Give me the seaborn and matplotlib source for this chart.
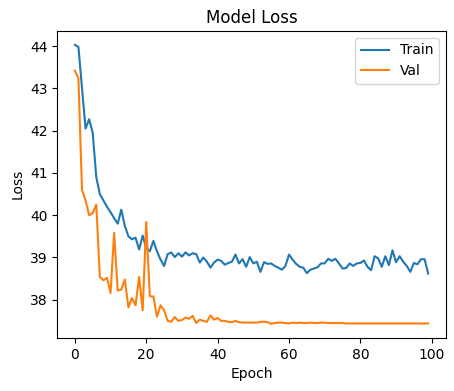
import matplotlib
matplotlib.use('Agg')
import matplotlib.pyplot as plt
import seaborn as sns
import numpy as np

# Loss values
train_loss = [44.03, 43.98, 43.0, 42.05, 42.27, 41.95, 40.9, 40.5, 40.35, 40.2,
              40.07, 39.93, 39.8, 40.13, 39.75, 39.5, 39.43, 39.47, 39.19, 39.52,
              39.22, 39.15, 39.39, 39.15, 38.95, 38.8, 39.08, 39.12, 39.01, 39.1,
              39.02, 39.12, 39.05, 39.1, 39.08, 38.88, 39.0, 38.9, 38.76, 38.88,
              38.95, 38.92, 38.83, 38.87, 38.9, 39.07, 38.86, 38.96, 38.78, 39.01,
              38.86, 38.9, 38.66, 38.89, 38.85, 38.86, 38.8, 38.76, 38.71, 38.8,
              39.07, 38.95, 38.85, 38.78, 38.76, 38.63, 38.71, 38.74, 38.77, 38.86,
              38.86, 38.97, 38.92, 38.97, 38.86, 38.74, 38.75, 38.86, 38.8, 38.86,
              38.87, 38.93, 38.78, 38.7, 39.03, 38.98, 38.78, 39.03, 38.82, 39.17,
              38.89, 39.03, 38.9, 38.8, 38.66, 38.87, 38.84, 38.96, 38.96, 38.62]

val_loss = [43.42, 43.24, 40.6, 40.35, 40.0, 40.05, 40.25, 38.54, 38.46, 38.52,
            38.16, 39.58, 38.22, 38.24, 38.48, 37.82, 38.04, 37.87, 38.54, 37.75,
            39.84, 38.08, 38.08, 37.6, 37.87, 37.75, 37.5, 37.48, 37.59, 37.5,
            37.52, 37.58, 37.55, 37.62, 37.45, 37.53, 37.5, 37.48, 37.63, 37.53,
            37.57, 37.5, 37.5, 37.48, 37.47, 37.5, 37.47, 37.46, 37.46, 37.46,
            37.46, 37.46, 37.48, 37.48, 37.47, 37.43, 37.45, 37.46, 37.46, 37.45,
            37.44, 37.46, 37.45, 37.46, 37.45, 37.45, 37.46, 37.45, 37.45, 37.46,
            37.46, 37.45, 37.45, 37.45, 37.45, 37.45, 37.44, 37.44, 37.44, 37.44,
            37.44, 37.44, 37.44, 37.44, 37.44, 37.44, 37.44, 37.44, 37.44, 37.44,
            37.44, 37.44, 37.44, 37.44, 37.44, 37.44, 37.44, 37.44, 37.44, 37.44]

epochs = np.arange(len(train_loss))

fig = plt.figure(figsize=(4.54, 3.91), dpi=100)
ax = fig.add_subplot(111)
fig.subplots_adjust(left=0.126, right=0.982, top=0.921, bottom=0.136)

sns.lineplot(x=epochs, y=train_loss, label='Train', color='#1f77b4', ax=ax)
sns.lineplot(x=epochs, y=val_loss, label='Val', color='#ff7f0e', ax=ax)

ax.set_title('Model Loss')
ax.set_xlabel('Epoch')
ax.set_ylabel('Loss')
ax.legend(loc='upper right')

plt.savefig('out.png', dpi=100)
